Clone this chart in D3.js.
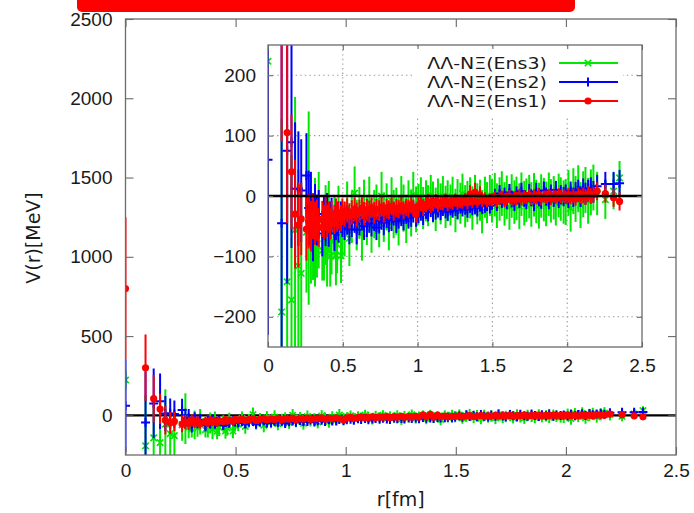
<!DOCTYPE html>
<html>
<head>
<meta charset="utf-8">
<script src="https://cdn.jsdelivr.net/npm/d3@7"></script>
<style>
  html, body { margin: 0; padding: 0; background: #fff; }
  svg { display: block; font-family: "DejaVu Sans", "Noto Sans", sans-serif; }
</style>
</head>
<body>
<svg id="chart" width="694" height="513"></svg>
<script>
// Separation r [fm], shared by all three ensembles
const rFm = [
  0, 0.091, 0.128, 0.157, 0.181, 0.203, 0.222, 0.257, 0.272, 0.287, 0.301, 0.314, 0.327, 0.339,
  0.363, 0.374, 0.385, 0.395, 0.406, 0.416, 0.425, 0.444, 0.454, 0.462, 0.471, 0.488, 0.497,
  0.512, 0.529, 0.544, 0.560, 0.579, 0.593, 0.611, 0.628, 0.642, 0.661, 0.677, 0.692, 0.710, 0.725, 0.743,
  0.759, 0.774, 0.793, 0.808, 0.826, 0.840, 0.858, 0.873, 0.891, 0.906, 0.924, 0.939, 0.957, 0.971, 0.990,
  1.005, 1.022, 1.037, 1.056, 1.070, 1.088, 1.103, 1.121, 1.136, 1.154, 1.169, 1.187, 1.201, 1.220, 1.234,
  1.253, 1.267, 1.286, 1.300, 1.318, 1.333, 1.351, 1.366, 1.384, 1.399, 1.417, 1.431, 1.450, 1.464, 1.483,
  1.497, 1.516, 1.530, 1.548, 1.563, 1.581, 1.596, 1.614, 1.629, 1.647, 1.661, 1.680, 1.694, 1.713, 1.727,
  1.746, 1.760, 1.778, 1.793, 1.811, 1.826, 1.844, 1.859, 1.877, 1.891, 1.910, 1.924, 1.943, 1.957, 1.976,
  1.990, 2.008, 2.023, 2.041, 2.056, 2.074, 2.089, 2.107, 2.122, 2.140, 2.158, 2.175, 2.200, 2.255, 2.310, 2.350
];

// ΛΛ-NΞ(Ens1) potential [MeV] and its error
const ens1V = [
  800, 300, 105, 40, -30, -48, -38, -55, -42, -50, -33, -45, -40, -52,
  -38, -44, -30, -41, -35, -46, -33, -39, -28, -36, -31, -37, -26,
  -30, -24, -33, -27, -22, -31, -25, -20, -29, -23, -26, -19, -28, -22, -24,
  -18, -27, -21, -23, -17, -25, -20, -22, -16, -24, -19, -21, -15, -20, -30,
  -16, -12, -19, -14, -10, -15, -13, -9, -14, -11, -12, -8, -13, -10, -11,
  -7, -12, -9, -10, -6, -11, 3, -9, 6, -10, 2, -8, -4, -9, -6,
  -6, -3, -8, -4, -2, -7, -5, -1, -6, -3, -4, 0, -5, -2, -3,
  1, -4, -1, -3, 2, -4, -1, -2, 1, -3, 0, -2, 2, -1, 0,
  -2, 1, -3, 0, -4, 2, -1, 1, -2, 3, 0, 2, 8, 4, -3, -9
];
const ens1Err = [
  450, 210, 150, 95, 90, 70, 60, 52, 45, 42, 38, 36, 34, 32,
  30, 29, 28, 27, 26, 26, 25, 24, 24, 23, 23, 22, 22,
  21, 20, 21, 20, 19, 20, 19, 18, 19, 18, 18, 17, 18, 17, 17,
  16, 17, 16, 16, 15, 16, 15, 15, 15, 15, 14, 15, 14, 14, 14,
  14, 13, 14, 13, 13, 13, 12, 12, 13, 12, 12, 12, 12, 11, 12,
  11, 11, 11, 11, 11, 11, 15, 11, 16, 10, 14, 10, 10, 10, 10,
  11, 11, 10, 11, 11, 12, 11, 11, 10, 11, 11, 12, 11, 11, 10,
  11, 11, 12, 11, 11, 11, 10, 11, 11, 12, 11, 11, 11, 11, 11,
  11, 12, 11, 12, 12, 12, 12, 13, 13, 13, 13, 13, 15, 15, 15, 15
];

// ΛΛ-NΞ(Ens2) potential [MeV] and its error
const ens2V = [
  60, -45, 75, 89, 12, 12, 9, 34, -20, -15, -58, -25, -40, -30,
  -62, -35, -48, -28, -52, -40, -33, -62, -45, -38, -50, -35, -42,
  -48, -40, -55, -44, -38, -56, -42, -35, -50, -46, -39, -45, -37, -52, -41,
  -36, -44, -33, -40, -38, -30, -42, -35, -31, -39, -28, -36, -33, -26, -34,
  -28, -24, -31, -22, -26, -19, -27, -23, -20, -25, -18, -22, -26, -17, -21,
  -19, -23, -15, -20, -17, -22, -14, -18, -16, -20, -13, -17, -15, -12, -16,
  -10, -2, -12, 4, -7, 0, -9, 6, -5, -11, 2, -6, 8, -4, -8,
  5, -3, -10, 7, -2, -6, 9, -1, -7, 4, -3, 10, -5, 2, -1,
  3, -4, 8, -2, 6, 10, -1, 12, 4, 9, 13, 7, 16, 20, 20, 21
];
const ens2Err = [
  290, 320, 220, 175, 110, 95, 85, 70, 62, 55, 50, 45, 42, 40,
  38, 36, 35, 33, 32, 31, 30, 29, 28, 28, 27, 26, 26,
  25, 24, 25, 24, 23, 24, 23, 22, 23, 22, 22, 22, 21, 21, 21,
  20, 21, 20, 20, 20, 19, 19, 19, 19, 18, 18, 18, 18, 18, 17,
  17, 17, 17, 16, 16, 16, 16, 16, 15, 15, 15, 15, 15, 15, 15,
  14, 15, 14, 14, 14, 14, 14, 14, 14, 14, 13, 13, 13, 13, 13,
  13, 14, 13, 14, 13, 14, 13, 14, 14, 14, 14, 14, 14, 14, 14,
  15, 14, 15, 15, 15, 15, 15, 15, 15, 15, 15, 15, 15, 16, 16,
  16, 16, 16, 16, 17, 17, 17, 17, 18, 18, 18, 18, 19, 20, 20, 22
];

// ΛΛ-NΞ(Ens3) potential [MeV] and its error
const ens3V = [
  223, -192, -142, -172, -56, -116, -128, -60, -20, -75, -84, -60, -80, -40,
  -90, -70, -48, -88, -35, -100, -75, -52, -98, -80, -30, -99, -60,
  -55, -20, -70, -35, 5, -48, -28, -62, -15, -40, -10, -52, -30, -22, -45,
  0, -35, -18, -50, -8, -30, -25, -42, -5, -20, -38, -12, -28, 2, -22,
  -14, -2, -20, -8, -16, 2, -10, -22, -4, -13, 0, -18, -8, -15, -1,
  -24, -6, -12, 4, -17, -9, -3, -20, 2, -13, -7, -26, -2, -11, 1,
  -8, 2, -16, -5, 4, -13, -2, -18, 0, -10, -4, -17, 3, -12, -7,
  -1, -14, 2, -9, -16, 0, -6, -13, 3, -8, -3, -12, 1, -5, -10,
  -10, 5, -20, 8, -5, 12, -15, 3, 10, -8, 6, 14, 4, -6, 8, 30
];
const ens3Err = [
  60, 320, 260, 240, 220, 160, 150, 100, 160, 70, 55, 90, 55, 80,
  50, 70, 66, 62, 60, 50, 55, 52, 50, 48, 47, 45, 44,
  45, 44, 46, 43, 44, 42, 43, 45, 42, 41, 42, 42, 40, 41, 40,
  40, 41, 39, 40, 39, 40, 39, 40, 38, 39, 40, 38, 39, 38, 38,
  34, 33, 35, 34, 34, 33, 34, 36, 33, 34, 33, 35, 34, 34, 33,
  36, 34, 34, 33, 35, 34, 34, 36, 33, 34, 34, 36, 34, 34, 34,
  36, 36, 37, 36, 37, 36, 36, 38, 36, 36, 36, 38, 36, 37, 36,
  36, 37, 36, 36, 38, 36, 36, 37, 36, 36, 36, 37, 36, 36, 36,
  38, 38, 39, 38, 38, 39, 38, 38, 38, 38, 38, 38, 36, 32, 30, 28
];

const legendNames = ["ΛΛ-NΞ(Ens3)", "ΛΛ-NΞ(Ens2)", "ΛΛ-NΞ(Ens1)"];
const mainXTicks = [0, 0.5, 1, 1.5, 2, 2.5];
const mainYTicks = [0, 500, 1000, 1500, 2000, 2500];
const insetXTicks = [0, 0.5, 1, 1.5, 2, 2.5];
const insetYTicks = [-200, -100, 0, 100, 200];
const insetGridX = [0.5, 1, 1.5, 2];
const insetGridY = [-200, -100, 100, 200];

// drawn in this order, so Ens1 ends up on top
const series = [
  { name: legendNames[0], color: "#00e800", v: ens3V, e: ens3Err, marker: "cross" },
  { name: legendNames[1], color: "#0000ff", v: ens2V, e: ens2Err, marker: "plus" },
  { name: legendNames[2], color: "#ff0000", v: ens1V, e: ens1Err, marker: "dot" }
];

const svg = d3.select("#chart");
const FONT = 19;
const LEGEND_FONT = 16.2;
const frameColor = "#6a6a6a";
const textColor = "#1a1a1a";

// red banner strip along the top edge
svg.append("rect").attr("x", 77).attr("y", -10).attr("width", 498).attr("height", 22)
  .attr("rx", 5).attr("fill", "#ff0000");

function addMarker(g, kind, cx, cy, color) {
  if (kind === "dot") {
    g.append("circle").attr("cx", cx).attr("cy", cy).attr("r", 3.6).attr("fill", color);
  } else if (kind === "plus") {
    g.append("path").attr("d", `M${cx - 4.5},${cy}H${cx + 4.5}M${cx},${cy - 4.5}V${cy + 4.5}`)
      .attr("stroke", color).attr("stroke-width", 2).attr("fill", "none");
  } else {
    g.append("path").attr("d", `M${cx - 3.2},${cy - 3.2}L${cx + 3.2},${cy + 3.2}M${cx - 3.2},${cy + 3.2}L${cx + 3.2},${cy - 3.2}`)
      .attr("stroke", color).attr("stroke-width", 1.7).attr("fill", "none");
  }
}

function drawSeries(g, x, y) {
  series.forEach(s => {
    const sg = g.append("g");
    sg.selectAll("line.err").data(rFm).join("line")
      .attr("class", "err")
      .attr("x1", d => x(d)).attr("x2", d => x(d))
      .attr("y1", (d, i) => y(s.v[i] + s.e[i]))
      .attr("y2", (d, i) => y(s.v[i] - s.e[i]))
      .attr("stroke", s.color).attr("stroke-width", 2);
    rFm.forEach((r, i) => addMarker(sg, s.marker, x(r), y(s.v[i]), s.color));
  });
}

function styleAxis(g, showText) {
  g.select(".domain").remove();
  g.selectAll(".tick line").attr("stroke", frameColor).attr("stroke-width", 1.1);
  g.selectAll(".tick text").attr("fill", textColor).attr("font-size", FONT)
    .style("display", showText ? null : "none");
}

// ---------- main panel ----------
const mx = d3.scaleLinear().domain([0, 2.5]).range([125.5, 676]);
const my = d3.scaleLinear().domain([-250, 2500]).range([455, 19]);
const mainW = mx.range()[1] - mx.range()[0];
const mainH = my.range()[0] - my.range()[1];

svg.append("clipPath").attr("id", "clipMain").append("rect")
  .attr("x", mx.range()[0]).attr("y", my.range()[1]).attr("width", mainW).attr("height", mainH);

const mainData = svg.append("g").attr("clip-path", "url(#clipMain)");
mainData.append("line").attr("x1", mx(0)).attr("x2", mx(2.5))
  .attr("y1", my(0)).attr("y2", my(0)).attr("stroke", "#000").attr("stroke-width", 2.2);
drawSeries(mainData, mx, my);

const fmtMain = d => d3.format("")(d);
svg.append("g").attr("transform", `translate(0,${my.range()[0]})`)
  .call(d3.axisBottom(mx).tickValues(mainXTicks).tickSize(-8).tickPadding(9).tickFormat(fmtMain))
  .call(g => styleAxis(g, true));
svg.append("g").attr("transform", `translate(0,${my.range()[1]})`)
  .call(d3.axisTop(mx).tickValues(mainXTicks).tickSize(-8))
  .call(g => styleAxis(g, false));
svg.append("g").attr("transform", `translate(${mx.range()[0]},0)`)
  .call(d3.axisLeft(my).tickValues(mainYTicks).tickSize(-8).tickPadding(13).tickFormat(fmtMain))
  .call(g => styleAxis(g, true));
svg.append("g").attr("transform", `translate(${mx.range()[1]},0)`)
  .call(d3.axisRight(my).tickValues(mainYTicks).tickSize(-8))
  .call(g => styleAxis(g, false));

svg.append("rect").attr("x", mx.range()[0]).attr("y", my.range()[1]).attr("width", mainW).attr("height", mainH)
  .attr("fill", "none").attr("stroke", frameColor).attr("stroke-width", 1.3);

svg.append("text").attr("x", (mx.range()[0] + mx.range()[1]) / 2).attr("y", 506)
  .attr("text-anchor", "middle").attr("font-size", FONT).attr("fill", textColor).text("r[fm]");
svg.append("text").attr("transform", "translate(40,238) rotate(-90)")
  .attr("text-anchor", "middle").attr("font-size", FONT).attr("fill", textColor).text("V(r)[MeV]");

// ---------- inset panel ----------
const ix = d3.scaleLinear().domain([0, 2.5]).range([268, 642]);
const iy = d3.scaleLinear().domain([-250, 250]).range([347, 45]);

svg.append("rect").attr("x", 268).attr("y", 45).attr("width", 374).attr("height", 302).attr("fill", "#fff");

const grid = svg.append("g").attr("stroke", "#9a9a9a").attr("stroke-width", 1.1).attr("stroke-dasharray", "1.4,3.2");
grid.selectAll("line.gx").data(insetGridX).join("line").attr("class", "gx")
  .attr("x1", d => ix(d)).attr("x2", d => ix(d)).attr("y1", iy(250)).attr("y2", iy(-250));
grid.selectAll("line.gy").data(insetGridY).join("line").attr("class", "gy")
  .attr("x1", ix(0)).attr("x2", ix(2.5)).attr("y1", d => iy(d)).attr("y2", d => iy(d));

svg.append("clipPath").attr("id", "clipInset").append("rect")
  .attr("x", 268).attr("y", 45).attr("width", 374).attr("height", 302);
const insetData = svg.append("g").attr("clip-path", "url(#clipInset)");
drawSeries(insetData, ix, iy);
insetData.append("line").attr("x1", ix(0)).attr("x2", ix(2.5))
  .attr("y1", iy(0)).attr("y2", iy(0)).attr("stroke", "#000").attr("stroke-width", 2.6);

svg.append("g").attr("transform", `translate(0,${iy.range()[0]})`)
  .call(d3.axisBottom(ix).tickValues(insetXTicks).tickSize(-5).tickPadding(12).tickFormat(fmtMain))
  .call(g => styleAxis(g, true));
svg.append("g").attr("transform", `translate(0,${iy.range()[1]})`)
  .call(d3.axisTop(ix).tickValues(insetXTicks).tickSize(-5))
  .call(g => styleAxis(g, false));
svg.append("g").attr("transform", `translate(${ix.range()[0]},0)`)
  .call(d3.axisLeft(iy).tickValues(insetYTicks).tickSize(-5).tickPadding(12).tickFormat(fmtMain))
  .call(g => styleAxis(g, true));
svg.append("g").attr("transform", `translate(${ix.range()[1]},0)`)
  .call(d3.axisRight(iy).tickValues(insetYTicks).tickSize(-5))
  .call(g => styleAxis(g, false));

// legend, on an opaque box inside the inset; rows are tight, so the
// labels use a slightly smaller size widened back to the full width
const leg = svg.append("g");
leg.append("rect").attr("x", 414).attr("y", 49).attr("width", 209).attr("height", 67).attr("fill", "#fff");
const stretch = FONT / LEGEND_FONT;
series.forEach((s, i) => {
  const yy = 63 + i * 19;
  leg.append("text").attr("transform", `translate(547,${yy}) scale(${stretch},1)`)
    .attr("dy", "0.36em").attr("text-anchor", "end").attr("font-size", LEGEND_FONT)
    .attr("fill", textColor).text(s.name);
  leg.append("line").attr("x1", 559).attr("x2", 618).attr("y1", yy).attr("y2", yy)
    .attr("stroke", s.color).attr("stroke-width", 2);
  addMarker(leg, s.marker, 588, yy, s.color);
});

svg.append("rect").attr("x", 268).attr("y", 45).attr("width", 374).attr("height", 302)
  .attr("fill", "none").attr("stroke", frameColor).attr("stroke-width", 1.3);
</script>
</body>
</html>
